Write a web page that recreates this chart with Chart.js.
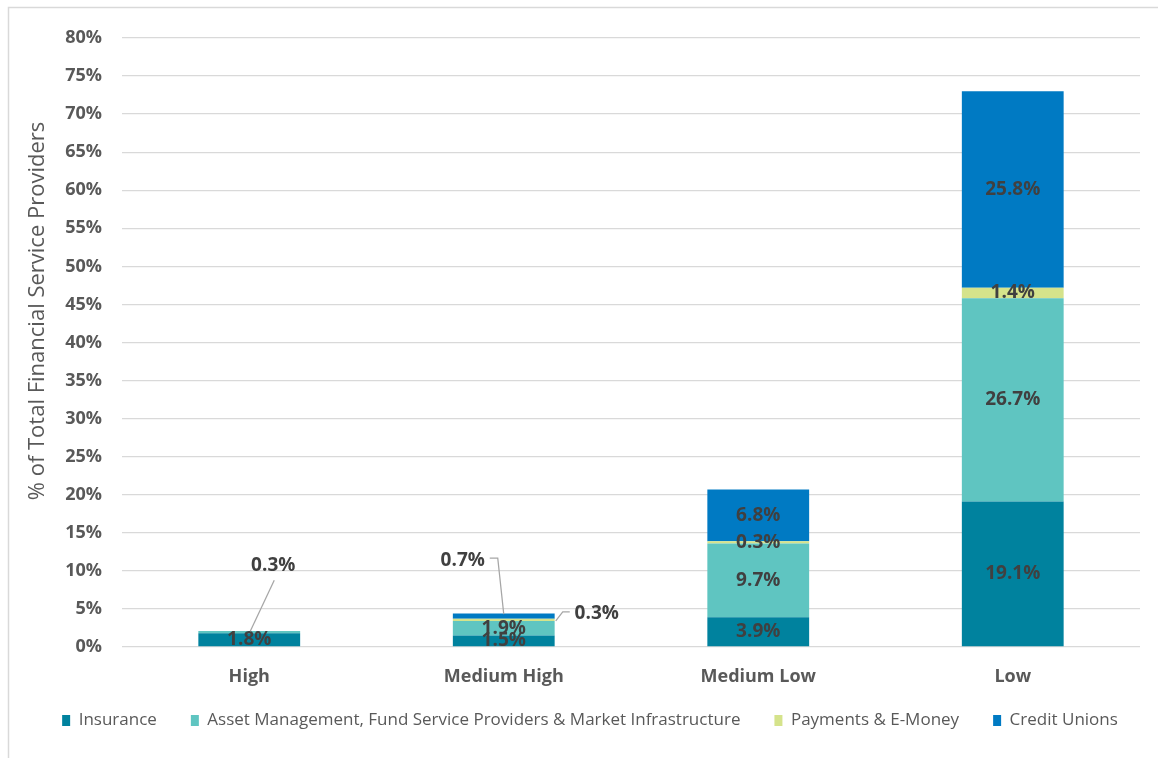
<!DOCTYPE html>
<html>
<head>
<meta charset="utf-8">
<script src="https://cdn.jsdelivr.net/npm/chart.js@4.4.1/dist/chart.umd.min.js"></script>
<style>
  html, body { margin: 0; padding: 0; background: #ffffff; }
  #wrap { width: 1158px; height: 758px; position: relative; }
</style>
</head>
<body>
<div id="wrap"><canvas id="c" width="1158" height="758"></canvas></div>
<script>
const categories = ['High', 'Medium High', 'Medium Low', 'Low'];
const seriesNames = ['Insurance', 'Asset Management, Fund Service Providers & Market Infrastructure', 'Payments & E-Money', 'Credit Unions'];
const insurance = [1.8, 1.5, 3.9, 19.1];
const assetManagement = [0.3, 1.9, 9.7, 26.7];
const paymentsEMoney = [0, 0.3, 0.3, 1.4];
const creditUnions = [0, 0.7, 6.8, 25.8];
const yTicks = [0, 5, 10, 15, 20, 25, 30, 35, 40, 45, 50, 55, 60, 65, 70, 75, 80];
const yTitle = '% of Total Financial Service Providers';
const colors = ['#00829E', '#5FC5C1', '#D5E38B', '#007AC3'];

// label callouts (label offset and leader line, relative to segment centre)
const callouts = {
  '1-0': { dx: 24, dy: -67, line: [[1, -1], [25, -52]] },
  '3-1': { dx: -41, dy: -56, line: [[0, -2], [-6, -58], [-14, -58]] },
  '2-1': { dx: 93, dy: -6, line: [[52, 1], [59, -8], [66, -8]] }
};

const FONT = "'Open Sans', 'DejaVu Sans', sans-serif";

const framePlugin = {
  id: 'frame',
  beforeDraw(chart) {
    const ctx = chart.ctx;
    ctx.save();
    ctx.fillStyle = '#ffffff';
    ctx.fillRect(0, 0, chart.width, chart.height);
    ctx.strokeStyle = '#d9d9d9';
    ctx.lineWidth = 1.5;
    ctx.beginPath();
    ctx.moveTo(8.5, chart.height);
    ctx.lineTo(8.5, 7.5);
    ctx.lineTo(chart.width, 7.5);
    ctx.stroke();
    ctx.restore();
    // let x tick labels extend below the (short) axis box
    chart.scales.x._computeLabelArea = () => undefined;
    // centre the legend row slightly to the right / lower, as in the reference
    if (chart.legend && !chart.legend._shifted) {
      chart.legend.left += 15;
      chart.legend.right += 15;
      chart.legend.top += 4;
      chart.legend._shifted = true;
    }
  }
};

const yTitlePlugin = {
  id: 'ytitle',
  afterDraw(chart) {
    const ctx = chart.ctx;
    ctx.save();
    ctx.translate(38, 311);
    ctx.rotate(-Math.PI / 2);
    ctx.font = '22px ' + FONT;
    ctx.fillStyle = '#595959';
    ctx.textAlign = 'center';
    ctx.textBaseline = 'middle';
    ctx.fillText(yTitle, 0, 0);
    ctx.restore();
  }
};

const labelPlugin = {
  id: 'segLabels',
  afterDatasetsDraw(chart) {
    const ctx = chart.ctx;
    ctx.save();
    ctx.font = 'bold 19px ' + FONT;
    ctx.fillStyle = '#404040';
    ctx.textAlign = 'center';
    ctx.textBaseline = 'middle';
    chart.data.datasets.forEach((ds, di) => {
      const meta = chart.getDatasetMeta(di);
      meta.data.forEach((bar, i) => {
        const v = ds.data[i];
        if (!v) return;
        const cx = bar.x;
        const cy = (bar.y + bar.base) / 2;
        const co = callouts[di + '-' + i];
        if (co) {
          ctx.save();
          ctx.strokeStyle = '#a6a6a6';
          ctx.lineWidth = 1.25;
          ctx.beginPath();
          co.line.forEach((p, k) => {
            if (k === 0) ctx.moveTo(cx + p[0], cy + p[1]);
            else ctx.lineTo(cx + p[0], cy + p[1]);
          });
          ctx.stroke();
          ctx.restore();
          ctx.fillText(v.toFixed(1) + '%', cx + co.dx, cy + co.dy);
        } else {
          ctx.fillText(v.toFixed(1) + '%', cx, cy);
        }
      });
    });
    ctx.restore();
  }
};

const seriesData = [insurance, assetManagement, paymentsEMoney, creditUnions];

new Chart(document.getElementById('c'), {
  type: 'bar',
  data: {
    labels: categories,
    datasets: seriesNames.map((name, k) => ({
      label: name,
      data: seriesData[k],
      backgroundColor: colors[k],
      borderWidth: 0,
      categoryPercentage: 1.0,
      barPercentage: 0.4
    }))
  },
  options: {
    responsive: false,
    animation: false,
    devicePixelRatio: 1,
    layout: { padding: { left: 10, right: 18, top: 38, bottom: 23 } },
    plugins: {
      tooltip: { enabled: false },
      legend: {
        position: 'bottom',
        labels: {
          boxWidth: 8,
          boxHeight: 11,
          padding: 34,
          color: '#595959',
          font: { family: FONT, size: 17 }
        }
      }
    },
    scales: {
      x: {
        stacked: true,
        grid: { display: false, drawTicks: false },
        border: { display: false },
        ticks: {
          color: '#595959',
          padding: 19,
          font: { family: FONT, size: 18, weight: 'bold' }
        },
        afterFit(scale) { scale.height = 27; }
      },
      y: {
        stacked: true,
        min: 0,
        max: 80,
        afterBuildTicks(scale) { scale.ticks = yTicks.map(v => ({ value: v })); },
        grid: { color: '#d9d9d9', lineWidth: 1.3, drawTicks: false },
        border: { display: false },
        ticks: {
          color: '#595959',
          padding: 20,
          font: { family: FONT, size: 18, weight: 'bold' },
          callback: v => v + '%'
        },
        afterFit(scale) { scale.width = 112; }
      }
    }
  },
  plugins: [framePlugin, yTitlePlugin, labelPlugin]
});
</script>
</body>
</html>
